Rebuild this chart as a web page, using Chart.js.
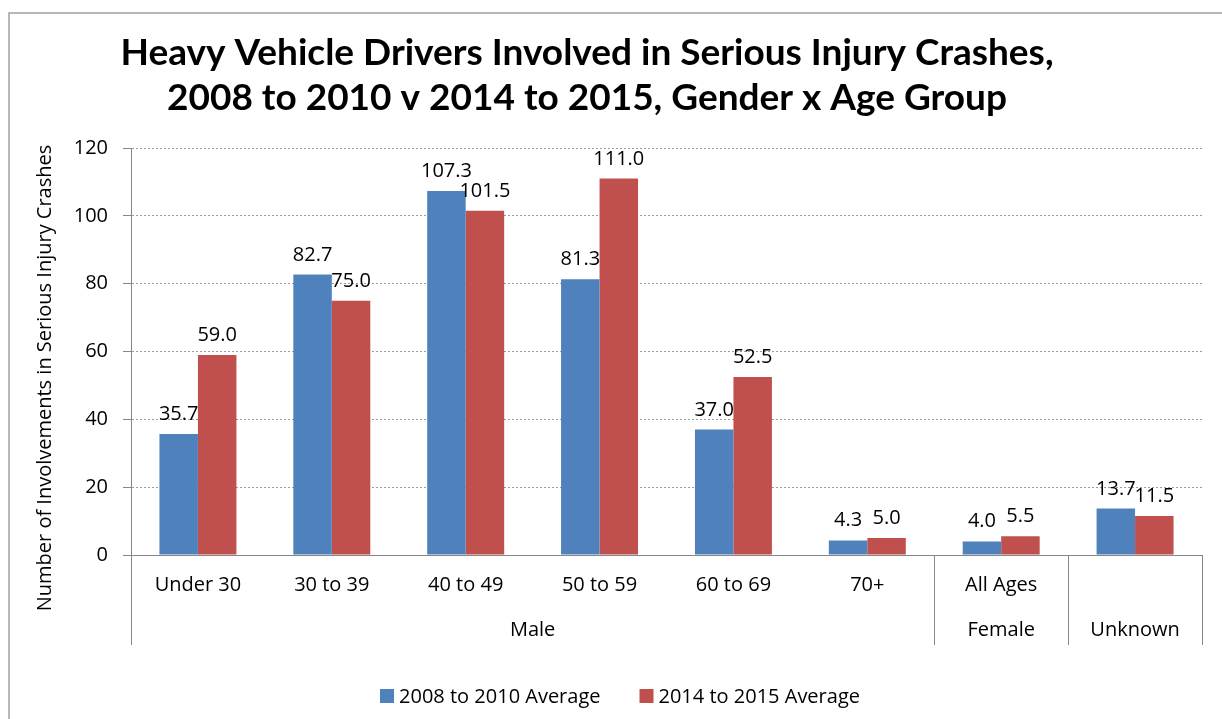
<!DOCTYPE html>
<html><head><meta charset="utf-8">
<script src="https://cdn.jsdelivr.net/npm/chart.js@4.4.1/dist/chart.umd.min.js"></script>
<style>html,body{margin:0;padding:0;background:#fff;overflow:hidden}</style>
</head><body>
<canvas id="c" width="1222" height="719"></canvas>
<script>
const categories = ['Under 30','30 to 39','40 to 49','50 to 59','60 to 69','70+','All Ages',''];
const groupLabels = ['Male','Female','Unknown'];
const groupSizes = [6,1,1];
const seriesNames = ['2008 to 2010 Average','2014 to 2015 Average'];
const avg2008to2010 = [35.7,82.7,107.3,81.3,37.0,4.3,4.0,13.7];
const avg2014to2015 = [59.0,75.0,101.5,111.0,52.5,5.0,5.5,11.5];
const yTicks = [0,20,40,60,80,100,120];
const titleLines = ['Heavy Vehicle Drivers Involved in Serious Injury Crashes,','2008 to 2010 v 2014 to 2015, Gender x Age Group'];
const yAxisTitle = 'Number of Involvements in Serious Injury Crashes';

const BLUE = '#4F81BD', RED = '#C0504D', AXIS = '#868686', GRID = '#9a9a9a';
const FONT = '"Open Sans", "Noto Sans", sans-serif';

const framePlugin = {
  id: 'frame',
  beforeDraw(chart) {
    const ctx = chart.ctx;
    ctx.save();
    ctx.fillStyle = '#fff';
    ctx.fillRect(0, 0, chart.width, chart.height);
    ctx.strokeStyle = '#a0a0a0';
    ctx.lineWidth = 1.5;
    ctx.strokeRect(9, 13, chart.width + 40, chart.height + 40);
    ctx.restore();
  }
};

const titlePlugin = {
  id: 'customTitle',
  afterDraw(chart) {
    const ctx = chart.ctx;
    ctx.save();
    ctx.fillStyle = '#000';
    ctx.font = 'bold 37px Lato, "Open Sans", sans-serif';
    ctx.textAlign = 'center';
    ctx.textBaseline = 'middle';
    titleLines.forEach((t, i) => ctx.fillText(t, 587, 53 + i * 45));
    // y axis title
    ctx.font = '20px ' + FONT;
    ctx.translate(45, 378);
    ctx.rotate(-Math.PI / 2);
    ctx.fillText(yAxisTitle, 0, 0);
    ctx.restore();
  }
};

const dataLabelPlugin = {
  id: 'dataLabels',
  afterDatasetsDraw(chart) {
    const ctx = chart.ctx;
    ctx.save();
    ctx.fillStyle = '#000';
    ctx.font = '20px ' + FONT;
    ctx.textAlign = 'center';
    ctx.textBaseline = 'alphabetic';
    chart.data.datasets.forEach((ds, di) => {
      chart.getDatasetMeta(di).data.forEach((el, i) => {
        ctx.fillText(ds.data[i].toFixed(1), el.x, el.y - 14);
      });
    });
    ctx.restore();
  }
};

const groupAxisPlugin = {
  id: 'groupAxis',
  afterDraw(chart) {
    const ctx = chart.ctx, xs = chart.scales.x, ca = chart.chartArea;
    const bottom = ca.bottom + 90;
    const edge = i => i <= 0 ? ca.left : (i >= categories.length ? ca.right : (xs.getPixelForValue(i - 1) + xs.getPixelForValue(i)) / 2);
    const bounds = [ca.left];
    let idx = 0;
    groupSizes.forEach(n => { idx += n; bounds.push(edge(idx)); });
    ctx.save();
    ctx.strokeStyle = AXIS;
    ctx.lineWidth = 1;
    bounds.forEach(b => {
      const bx = Math.round(b) + 0.5;
      ctx.beginPath(); ctx.moveTo(bx, ca.bottom); ctx.lineTo(bx, bottom); ctx.stroke();
    });
    ctx.fillStyle = '#000';
    ctx.font = '20px ' + FONT;
    ctx.textAlign = 'center';
    ctx.textBaseline = 'middle';
    groupLabels.forEach((g, i) => ctx.fillText(g, (bounds[i] + bounds[i + 1]) / 2, ca.bottom + 75));
    ctx.restore();
  }
};

const legendPlugin = {
  id: 'customLegend',
  afterDraw(chart) {
    const ctx = chart.ctx;
    ctx.save();
    ctx.font = '20px ' + FONT;
    ctx.textBaseline = 'middle';
    ctx.textAlign = 'left';
    const box = 14, gap = 5, spacing = 39, cy = 697;
    const items = chart.data.datasets.map(ds => ({ label: ds.label, color: ds.backgroundColor, w: ctx.measureText(ds.label).width }));
    const total = items.reduce((s, it) => s + box + gap + it.w, 0) + spacing * (items.length - 1);
    let x = 620 - total / 2;
    items.forEach(it => {
      ctx.fillStyle = it.color;
      ctx.fillRect(x, cy - box / 2 - 1, box, box);
      ctx.fillStyle = '#000';
      ctx.fillText(it.label, x + box + gap, cy);
      x += box + gap + it.w + spacing;
    });
    ctx.restore();
  }
};

new Chart(document.getElementById('c'), {
  type: 'bar',
  data: {
    labels: categories,
    datasets: [
      { label: seriesNames[0], data: avg2008to2010, backgroundColor: BLUE, borderWidth: 0 },
      { label: seriesNames[1], data: avg2014to2015, backgroundColor: RED, borderWidth: 0 }
    ]
  },
  options: {
    responsive: false,
    animation: false,
    devicePixelRatio: 1,
    layout: { padding: { top: 148, right: 20, bottom: 0, left: 0 } },
    datasets: { bar: { categoryPercentage: 0.575, barPercentage: 1.0 } },
    plugins: { legend: { display: false }, title: { display: false }, tooltip: { enabled: false } },
    scales: {
      x: {
        grid: { display: false, drawTicks: false },
        border: { display: true, color: AXIS, width: 1 },
        ticks: { color: '#000', font: { family: FONT, size: 20 }, padding: 18, maxRotation: 0, autoSkip: false },
        afterFit(s) { s.height = 164; }
      },
      y: {
        min: 0, max: 120,
        afterBuildTicks(s) { s.ticks = yTicks.map(v => ({ value: v })); },
        grid: { color: GRID, lineWidth: 1, drawTicks: true, tickLength: 8, tickColor: AXIS, tickBorderDash: [] },
        border: { display: true, color: AXIS, width: 1, dash: [2, 2] },
        ticks: { color: '#000', font: { family: FONT, size: 20 }, padding: 15 },
        afterFit(s) { s.width = 131; }
      }
    }
  },
  plugins: [framePlugin, dataLabelPlugin, groupAxisPlugin, titlePlugin, legendPlugin]
});
</script>
</body></html>
